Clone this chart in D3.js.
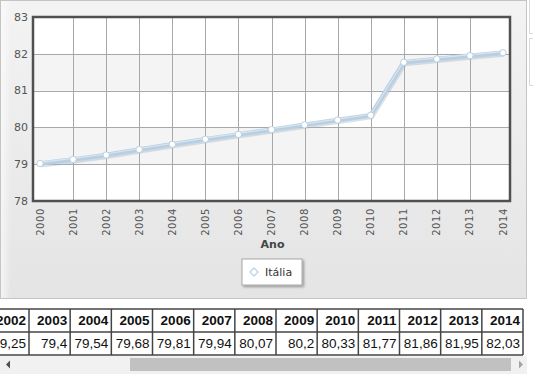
<html>
<head>
<meta charset="utf-8">
<script src="https://cdnjs.cloudflare.com/ajax/libs/d3/7.8.5/d3.min.js"></script>
<style>
  body { margin: 0; background: #fff; }
  svg { font-family: "DejaVu Sans", Verdana, sans-serif; display: block; }
  .ylab { font-size: 11px; fill: #555; }
  .xlab { font-size: 10px; fill: #555; letter-spacing: 0.6px; }
  .cell { font-family: "Liberation Sans", Arial, sans-serif; font-size: 13.5px; fill: #111; }
</style>
</head>
<body>
<div id="chart"></div>
<script>
// data
var years = ["2000","2001","2002","2003","2004","2005","2006","2007","2008","2009","2010","2011","2012","2013","2014"];
var italia = [79.02, 79.13, 79.25, 79.4, 79.54, 79.68, 79.81, 79.94, 80.07, 80.2, 80.33, 81.77, 81.86, 81.95, 82.03];
var yTicks = [78, 79, 80, 81, 82, 83];
var seriesName = "Itália";
var xTitle = "Ano";

var W = 536, H = 374;
var plot = {left: 33, top: 17, right: 510, bottom: 201};
var inset = 7;

var svg = d3.select("#chart").append("svg")
    .attr("width", W).attr("height", H);

var defs = svg.append("defs");
var grad = defs.append("linearGradient").attr("id", "panelGrad")
    .attr("x1", 0).attr("y1", 0).attr("x2", 0).attr("y2", 1);
grad.append("stop").attr("offset", "0%").attr("stop-color", "#f3f3f3");
grad.append("stop").attr("offset", "100%").attr("stop-color", "#e4e4e4");
var sgrad = defs.append("linearGradient").attr("id", "sideGrad")
    .attr("x1", 0).attr("y1", 0).attr("x2", 1).attr("y2", 0);
sgrad.append("stop").attr("offset", "0%").attr("stop-color", "#fff").attr("stop-opacity", 0.6);
sgrad.append("stop").attr("offset", "100%").attr("stop-color", "#fff").attr("stop-opacity", 0);
var shadow = defs.append("filter").attr("id", "shadow")
    .attr("x", "-20%").attr("y", "-20%").attr("width", "140%").attr("height", "150%");
shadow.append("feDropShadow").attr("dx", 1.5).attr("dy", 1.5).attr("stdDeviation", 1)
    .attr("flood-color", "#000").attr("flood-opacity", 0.35);

/* panel */
svg.append("rect").attr("x", 0.5).attr("y", 0.5).attr("width", 526).attr("height", 298)
    .attr("fill", "url(#panelGrad)").attr("stroke", "#c4c4c4");
svg.append("rect").attr("x", 1).attr("y", 1).attr("width", 10).attr("height", 297)
    .attr("fill", "url(#sideGrad)");
// faint clipped frame at far right
svg.append("path").attr("d", "M529.5,0V33.5H533M533,38.5H529.5V85.5H533")
    .attr("fill", "none").attr("stroke", "#d8d8d8");

/* scales */
var x = d3.scalePoint().domain(years).range([plot.left + inset, plot.right - inset]);
var y = d3.scaleLinear().domain([78, 83]).range([plot.bottom, plot.top]);

/* plot background with alternating bands */
svg.append("rect").attr("x", plot.left).attr("y", plot.top)
    .attr("width", plot.right - plot.left).attr("height", plot.bottom - plot.top)
    .attr("fill", "#fff");
svg.selectAll(".band").data(yTicks.slice(0, -1).filter(function(d) { return d % 2 === 1; }))
  .enter().append("rect")
    .attr("x", plot.left).attr("width", plot.right - plot.left)
    .attr("y", function(d) { return y(d + 1); })
    .attr("height", function(d) { return y(d) - y(d + 1); })
    .attr("fill", "#f4f4f4");

/* grid */
svg.selectAll(".hgrid").data(yTicks.slice(1, -1)).enter().append("line")
    .attr("x1", plot.left).attr("x2", plot.right)
    .attr("y1", function(d) { return Math.round(y(d)) + 0.5; })
    .attr("y2", function(d) { return Math.round(y(d)) + 0.5; })
    .attr("stroke", "#a8a8a8");
svg.selectAll(".vgrid").data(years.slice(1, -1)).enter().append("line")
    .attr("x1", function(d) { return Math.round(x(d)) + 0.5; })
    .attr("x2", function(d) { return Math.round(x(d)) + 0.5; })
    .attr("y1", plot.top).attr("y2", plot.bottom)
    .attr("stroke", "#a8a8a8");

/* line */
var pts = years.map(function(d, i) { return {year: d, value: italia[i]}; });
var line = d3.line().x(function(d) { return x(d.year); }).y(function(d) { return y(d.value); });
svg.append("path").attr("d", line(pts)).attr("fill", "none")
    .attr("stroke", "#9fb4c6").attr("stroke-opacity", 0.4).attr("stroke-width", 5)
    .attr("transform", "translate(1,1.5)");
svg.append("path").attr("d", line(pts)).attr("fill", "none")
    .attr("stroke", "#b9cfe1").attr("stroke-width", 4.5).attr("stroke-linejoin", "round");
svg.append("path").attr("d", line(pts)).attr("fill", "none")
    .attr("stroke", "#d8e6f1").attr("stroke-width", 1.2)
    .attr("transform", "translate(0,-1)");
svg.selectAll(".pt").data(pts).enter().append("circle")
    .attr("cx", function(d) { return x(d.year); })
    .attr("cy", function(d) { return y(d.value); })
    .attr("r", 3.2)
    .attr("fill", "#fff").attr("stroke", "#b9cfe1").attr("stroke-width", 1);

/* plot frame */
svg.append("rect").attr("x", plot.left).attr("y", plot.top)
    .attr("width", plot.right - plot.left).attr("height", plot.bottom - plot.top)
    .attr("fill", "none").attr("stroke", "#505050").attr("stroke-width", 2.5);

/* y labels */
svg.selectAll(".ylab").data(yTicks).enter().append("text")
    .attr("class", "ylab")
    .attr("x", plot.left - 5)
    .attr("y", function(d) { return y(d); })
    .attr("dy", "0.35em")
    .attr("text-anchor", "end")
    .text(function(d) { return d; });

/* x labels */
svg.selectAll(".xlab").data(years).enter().append("text")
    .attr("class", "xlab")
    .attr("transform", function(d) { return "translate(" + (x(d) + 3.5) + "," + (plot.bottom + 7) + ") rotate(-90)"; })
    .attr("text-anchor", "end")
    .text(function(d) { return d; });

svg.append("text").attr("x", (plot.left + plot.right) / 2 + 1).attr("y", 248)
    .attr("text-anchor", "middle").attr("font-size", 11).attr("font-weight", "bold")
    .attr("fill", "#444").text(xTitle);

/* legend */
var lg = svg.append("g").attr("transform", "translate(242,259)");
lg.append("rect").attr("width", 60).attr("height", 26)
    .attr("fill", "#fff").attr("stroke", "#a8a8a8").attr("filter", "url(#shadow)");
lg.append("path").attr("d", "M8,13l4,-4l4,4l-4,4z")
    .attr("fill", "#fff").attr("stroke", "#c4d6e6").attr("stroke-width", 1.5);
lg.append("text").attr("x", 23).attr("y", 17).attr("font-size", 11).attr("fill", "#333")
    .text(seriesName);

/* data table (scrolled: first columns are out of view) */
var colW = (523 - 29) / 12;
var tx = d3.scaleBand().domain(years).range([523 - colW * years.length, 523]);
var rowTop = 309, rowH = 23;
var tbl = svg.append("g");
var visible = years.filter(function(yr) { return tx(yr) + tx.bandwidth() > 0; });
visible.forEach(function(yr) {
  var i = years.indexOf(yr);
  var cx = tx(yr);
  tbl.append("rect").attr("x", cx).attr("y", rowTop)
     .attr("width", tx.bandwidth()).attr("height", rowH * 2)
     .attr("fill", "#fff");
  tbl.append("text").attr("class", "cell").attr("font-weight", "bold")
     .attr("x", cx + tx.bandwidth() - 3).attr("y", rowTop + 16)
     .attr("text-anchor", "end").text(yr);
  tbl.append("text").attr("class", "cell")
     .attr("x", cx + tx.bandwidth() - 3).attr("y", rowTop + rowH + 16)
     .attr("text-anchor", "end").text(String(italia[i]).replace(".", ","));
});
[0, 1, 2].forEach(function(r) {
  tbl.append("line").attr("x1", 0).attr("x2", 523)
     .attr("y1", rowTop + r * rowH).attr("y2", rowTop + r * rowH)
     .attr("stroke", "#444").attr("stroke-width", 1.5);
});
visible.concat(["end"]).forEach(function(yr) {
  var bx = yr === "end" ? 523 : tx(yr);
  tbl.append("line").attr("x1", bx).attr("x2", bx)
     .attr("y1", rowTop).attr("y2", rowTop + rowH * 2)
     .attr("stroke", "#444").attr("stroke-width", 1.5);
});

/* scrollbar */
svg.append("rect").attr("x", 0).attr("y", 356).attr("width", 527).attr("height", 18).attr("fill", "#f1f1f1");
svg.append("rect").attr("x", 130).attr("y", 358).attr("width", 381).attr("height", 13).attr("fill", "#c1c1c1");
svg.append("path").attr("d", "M6,364.5l4,-4v8z").attr("fill", "#505050");
svg.append("path").attr("d", "M523,364.5l-4,-4v8z").attr("fill", "#a3a3a3");
</script>
</body>
</html>
